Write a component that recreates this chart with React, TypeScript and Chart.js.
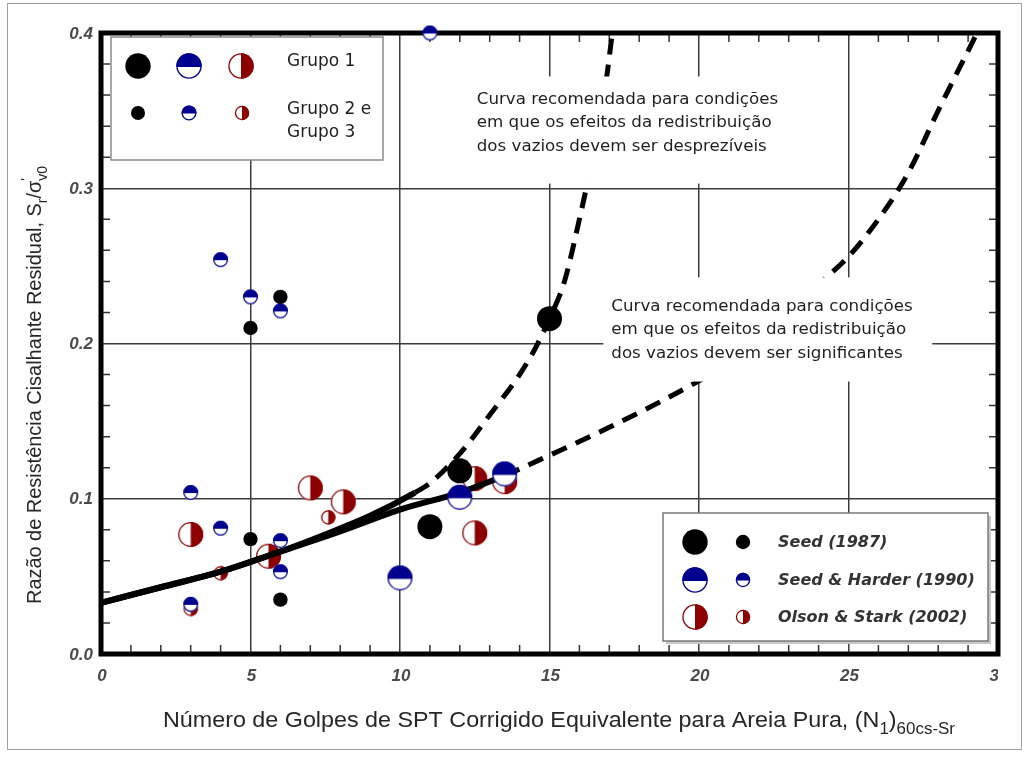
import React, { useEffect, useRef } from 'react';
import { Chart, registerables } from 'chart.js';

Chart.register(...registerables);

const W = 1030;
const H = 758;

// Seed (1987)
const seedX = [11, 12, 15, 5, 6, 5, 6];
const seedY = [0.082, 0.118, 0.216, 0.21, 0.23, 0.074, 0.035];
const seedGrupo = [1, 1, 1, 2, 2, 2, 2];

// Seed & Harder (1990)
const harderX = [10, 12, 13.5, 3, 4, 5, 6, 4, 6, 6, 3, 11];
const harderY = [0.049, 0.101, 0.116, 0.104, 0.254, 0.23, 0.221, 0.081, 0.073, 0.053, 0.032, 0.4];
const harderGrupo = [1, 1, 1, 2, 2, 2, 2, 2, 2, 2, 2, 2];

// Olson & Stark (2002)
const olsonX = [3, 5.6, 7, 8.1, 12.5, 12.5, 13.5, 4, 3, 7.6];
const olsonY = [0.077, 0.063, 0.107, 0.098, 0.113, 0.078, 0.111, 0.052, 0.029, 0.088];
const olsonGrupo = [1, 1, 1, 1, 1, 1, 1, 2, 2, 2];

// Recommended curves (solid part, then dashed beyond the given abscissa)
const curvaDesprezX = [0, 2, 4, 6, 7.5, 9, 10.5, 11, 12, 13, 14, 14.5, 15, 15.5, 16, 16.25, 16.6, 16.9, 17.1];
const curvaDesprezY = [0.033, 0.043, 0.053, 0.066, 0.077, 0.089, 0.104, 0.11, 0.129, 0.154, 0.18, 0.196, 0.216, 0.24, 0.28, 0.302, 0.337, 0.37, 0.4];
const curvaSignifX = [0, 2, 4, 6, 8, 10, 12, 13.5, 15, 17, 20, 22, 24, 25, 26, 27, 28, 29.3];
const curvaSignifY = [0.033, 0.043, 0.053, 0.066, 0.079, 0.093, 0.104, 0.115, 0.128, 0.146, 0.176, 0.2, 0.238, 0.256, 0.28, 0.31, 0.35, 0.4];
const inicioTracejadoDesprez = 10.5;
const inicioTracejadoSignif = 13.5;

const xTickLabels = ['0', '5', '10', '15', '20', '25', '30'];
const yTickLabels = ['0.0', '0.1', '0.2', '0.3', '0.4'];

const grupoLabels = ['Grupo 1', 'Grupo 2 e', 'Grupo 3'];
const fonteLabels = ['Seed (1987)', 'Seed & Harder (1990)', 'Olson & Stark (2002)'];
const notaDesprez = ['Curva recomendada para condições', 'em que os efeitos da redistribuição', 'dos vazios devem ser desprezíveis'];
const notaSignif = ['Curva recomendada para condições', 'em que os efeitos da redistribuição', 'dos vazios devem ser significantes'];

const BLUE = '#00008f';
const RED = '#8c0000';
const R_BIG = 12.5;
const R_SMALL = 7.2;

const SANS = '"DejaVu Sans", "Liberation Sans", sans-serif';
const ARIAL = '"Liberation Sans", Arial, sans-serif';

type Kind = 'seed' | 'harder' | 'olson';

function drawMarker(ctx: CanvasRenderingContext2D, kind: Kind, cx: number, cy: number, r: number) {
  ctx.save();
  if (kind === 'seed') {
    ctx.fillStyle = '#000';
    ctx.beginPath();
    ctx.arc(cx, cy, r, 0, Math.PI * 2);
    ctx.fill();
  } else {
    const col = kind === 'harder' ? BLUE : RED;
    ctx.fillStyle = '#fff';
    ctx.beginPath();
    ctx.arc(cx, cy, r, 0, Math.PI * 2);
    ctx.fill();
    ctx.fillStyle = col;
    ctx.beginPath();
    if (kind === 'harder') ctx.arc(cx, cy, r, Math.PI - 0.08, 2 * Math.PI + 0.08);
    else ctx.arc(cx, cy, r, -Math.PI / 2, Math.PI / 2);
    ctx.closePath();
    ctx.fill();
    ctx.strokeStyle = col;
    ctx.lineWidth = 1.3;
    ctx.beginPath();
    ctx.arc(cx, cy, r - 0.65, 0, Math.PI * 2);
    ctx.stroke();
  }
  ctx.restore();
}

function markerImage(kind: Kind, r: number) {
  const s = Math.ceil(2 * r + 2);
  const c = document.createElement('canvas');
  c.width = s;
  c.height = s;
  const g = c.getContext('2d')!;
  drawMarker(g, kind, s / 2, s / 2, r);
  return c;
}

type Run = { t: string; sub?: boolean; sup?: boolean };

// Draws a line of mixed text runs (with sub/superscripts), fitted to a given length.
function drawRuns(ctx: CanvasRenderingContext2D, runs: Run[], size: number, family: string, length: number) {
  const fonts = runs.map((r) => `${r.sub || r.sup ? Math.round(size * 0.72) : size}px ${family}`);
  let total = 0;
  const widths = runs.map((r, i) => {
    ctx.font = fonts[i];
    const w = ctx.measureText(r.t).width;
    if (!r.sup) total += w;
    return w;
  });
  const sx = length / total;
  ctx.save();
  ctx.scale(sx, 1);
  let cx = 0;
  runs.forEach((r, i) => {
    ctx.font = fonts[i];
    const dy = r.sub ? size * 0.32 : r.sup ? -size * 0.5 : 0;
    ctx.fillText(r.t, cx, dy);
    cx += r.sup ? 0 : widths[i];
  });
  ctx.restore();
}

const decor = {
  id: 'decor',
  beforeDatasetsDraw(chart: any) {
    const { ctx, chartArea: a, scales } = chart;
    const x = scales.x;
    const y = scales.y;
    ctx.save();
    ctx.strokeStyle = '#333';
    ctx.lineWidth = 1.5;
    ctx.beginPath();
    for (let v = 1; v < 30; v++) {
      if (v % 5 === 0) continue;
      const px = x.getPixelForValue(v);
      ctx.moveTo(px, a.bottom);
      ctx.lineTo(px, a.bottom - 9);
      ctx.moveTo(px, a.top);
      ctx.lineTo(px, a.top + 9);
    }
    for (let k = 1; k < 20; k++) {
      if (k % 5 === 0) continue;
      const py = y.getPixelForValue(k * 0.02);
      ctx.moveTo(a.left, py);
      ctx.lineTo(a.left + 9, py);
      ctx.moveTo(a.right, py);
      ctx.lineTo(a.right - 9, py);
    }
    ctx.stroke();
    ctx.strokeStyle = '#000';
    ctx.lineWidth = 5;
    ctx.strokeRect(a.left, a.top, a.right - a.left, a.bottom - a.top);
    ctx.restore();
  },
  afterDatasetsDraw(chart: any) {
    const { ctx, scales } = chart;
    const x = scales.x;
    const y = scales.y;
    ctx.save();

    // note boxes, placed in data coordinates
    const nota = (lines: string[], x0: number, x1: number, y1: number, y0: number, firstLine: number) => {
      const l = x.getPixelForValue(x0);
      const r = x.getPixelForValue(x1);
      const t = y.getPixelForValue(y1);
      const b = y.getPixelForValue(y0);
      ctx.fillStyle = '#fff';
      ctx.fillRect(l, t, r - l, b - t);
      ctx.fillStyle = '#1e1e1e';
      ctx.font = `16.7px ${SANS}`;
      ctx.textBaseline = 'middle';
      ctx.textAlign = 'left';
      lines.forEach((s, i) => ctx.fillText(s, l + 8, t + firstLine + i * 23.5));
    };
    nota(notaDesprez, 12.3, 23.05, 0.372, 0.303, 23);
    nota(notaSignif, 16.8, 27.8, 0.2426, 0.1755, 29);

    // group legend (top left)
    ctx.fillStyle = '#fff';
    ctx.fillRect(111, 37, 272, 123);
    ctx.strokeStyle = '#8a8a8a';
    ctx.lineWidth = 1.5;
    ctx.strokeRect(111, 37, 272, 123);
    drawMarker(ctx, 'seed', 138, 66, 12.7);
    drawMarker(ctx, 'harder', 189, 66, 12.7);
    drawMarker(ctx, 'olson', 241, 66, 12.7);
    drawMarker(ctx, 'seed', 138, 113, 7);
    drawMarker(ctx, 'harder', 189, 113, 7.5);
    drawMarker(ctx, 'olson', 242, 113, 7.2);
    ctx.fillStyle = '#1e1e1e';
    ctx.font = `17px ${SANS}`;
    ctx.textBaseline = 'middle';
    ctx.textAlign = 'left';
    ctx.fillText(grupoLabels[0], 287, 62);
    ctx.fillText(grupoLabels[1], 287, 110);
    ctx.fillText(grupoLabels[2], 287, 133);

    // source legend (bottom right)
    ctx.fillStyle = '#c8c8c8';
    ctx.fillRect(666, 516, 325, 128);
    ctx.fillStyle = '#fff';
    ctx.fillRect(663, 513, 325, 128);
    ctx.strokeStyle = '#7a7a7a';
    ctx.lineWidth = 1.5;
    ctx.strokeRect(663, 513, 325, 128);
    const kinds: Kind[] = ['seed', 'harder', 'olson'];
    const rows = [542, 580, 617];
    kinds.forEach((k, i) => {
      drawMarker(ctx, k, 695, rows[i], 12.7);
      drawMarker(ctx, k, 743, rows[i], 7.2);
    });
    ctx.fillStyle = '#333';
    ctx.font = `italic bold 16px ${SANS}`;
    fonteLabels.forEach((s, i) => ctx.fillText(s, 778, rows[i] + 1));
    ctx.restore();
  },
  afterDraw(chart: any) {
    const { ctx, chartArea: a, scales } = chart;
    const x = scales.x;
    const y = scales.y;
    ctx.save();

    // tick labels
    ctx.fillStyle = '#4a4a4a';
    ctx.font = `italic bold 17px ${ARIAL}`;
    ctx.textBaseline = 'middle';
    ctx.textAlign = 'right';
    yTickLabels.forEach((s) => ctx.fillText(s, a.left - 8, y.getPixelForValue(Number(s)) + 1));
    ctx.save();
    ctx.beginPath();
    ctx.rect(0, 0, a.right, H);
    ctx.clip();
    ctx.textAlign = 'center';
    xTickLabels.forEach((s) => ctx.fillText(s, x.getPixelForValue(Number(s)) + 1, a.bottom + 22));
    ctx.restore();

    // axis titles
    ctx.fillStyle = '#262626';
    ctx.textAlign = 'left';
    ctx.textBaseline = 'alphabetic';
    ctx.save();
    ctx.translate(163, 727);
    drawRuns(
      ctx,
      [
        { t: 'Número de Golpes de SPT Corrigido Equivalente para Areia Pura, (N' },
        { t: '1', sub: true },
        { t: ')' },
        { t: '60cs-Sr', sub: true },
      ],
      22,
      ARIAL,
      792
    );
    ctx.restore();

    ctx.save();
    ctx.translate(41, 604);
    ctx.rotate(-Math.PI / 2);
    drawRuns(
      ctx,
      [
        { t: 'Razão de Resistência Cisalhante Residual, S' },
        { t: 'r', sub: true },
        { t: '/σ' },
        { t: "'", sup: true },
        { t: 'v0', sub: true },
      ],
      20,
      ARIAL,
      438
    );
    ctx.restore();

    // outer frame
    ctx.strokeStyle = '#a0a0a0';
    ctx.lineWidth = 1;
    ctx.strokeRect(7.5, 3.5, 1014, 746);
    ctx.restore();
  },
};

function pontos(xs: number[], ys: number[]) {
  return xs.map((v, i) => ({ x: v, y: ys[i] }));
}

export default function App() {
  const ref = useRef<HTMLCanvasElement>(null);

  useEffect(() => {
    const canvas = ref.current;
    if (!canvas) return;

    const blueBig = markerImage('harder', R_BIG);
    const blueSmall = markerImage('harder', 7.5);
    const redBig = markerImage('olson', R_BIG);
    const redSmall = markerImage('olson', R_SMALL);

    const chart = new Chart(canvas, {
      type: 'scatter',
      data: {
        datasets: [
          {
            label: 'Olson & Stark (2002)',
            data: pontos(olsonX, olsonY),
            pointStyle: olsonGrupo.map((g) => (g === 1 ? redBig : redSmall)) as any,
            pointRadius: olsonGrupo.map((g) => (g === 1 ? R_BIG : R_SMALL)),
            order: 4,
          },
          {
            label: 'Curva (redistribuição desprezível)',
            data: pontos(curvaDesprezX, curvaDesprezY),
            showLine: true,
            pointRadius: 0,
            borderColor: '#000',
            borderWidth: 6,
            borderCapStyle: 'butt',
            borderJoinStyle: 'round',
            cubicInterpolationMode: 'monotone',
            segment: {
              borderDash: (c: any) => (c.p0.parsed.x >= inicioTracejadoDesprez ? [16, 10] : undefined),
              borderWidth: (c: any) => (c.p0.parsed.x >= inicioTracejadoDesprez ? 5 : undefined),
            },
            order: 3,
          } as any,
          {
            label: 'Curva (redistribuição significante)',
            data: pontos(curvaSignifX, curvaSignifY),
            showLine: true,
            pointRadius: 0,
            borderColor: '#000',
            borderWidth: 6,
            borderCapStyle: 'butt',
            borderJoinStyle: 'round',
            cubicInterpolationMode: 'monotone',
            segment: {
              borderDash: (c: any) => (c.p0.parsed.x >= inicioTracejadoSignif ? [16, 10] : undefined),
              borderWidth: (c: any) => (c.p0.parsed.x >= inicioTracejadoSignif ? 5 : undefined),
            },
            order: 3,
          } as any,
          {
            label: 'Seed (1987)',
            data: pontos(seedX, seedY),
            pointStyle: 'circle',
            backgroundColor: '#000',
            borderWidth: 0,
            pointRadius: seedGrupo.map((g) => (g === 1 ? R_BIG : R_SMALL)),
            order: 2,
          },
          {
            label: 'Seed & Harder (1990)',
            data: pontos(harderX, harderY),
            pointStyle: harderGrupo.map((g) => (g === 1 ? blueBig : blueSmall)) as any,
            pointRadius: harderGrupo.map((g) => (g === 1 ? R_BIG : 7.5)),
            clip: false,
            order: 1,
          } as any,
        ],
      },
      options: {
        responsive: false,
        devicePixelRatio: 1,
        animation: false,
        events: [],
        layout: { padding: { top: 33, right: 32, left: 0, bottom: 0 } },
        plugins: { legend: { display: false }, tooltip: { enabled: false } },
        scales: {
          x: {
            type: 'linear',
            min: 0,
            max: 30,
            ticks: { stepSize: 5, display: false },
            grid: { color: '#3c3c3c', lineWidth: 1.5, drawTicks: false },
            border: { display: false },
            afterFit: (s: any) => {
              s.height = 104;
            },
          },
          y: {
            type: 'linear',
            min: 0,
            max: 0.4,
            ticks: { stepSize: 0.1, display: false },
            grid: { color: '#3c3c3c', lineWidth: 1.5, drawTicks: false },
            border: { display: false },
            afterFit: (s: any) => {
              s.width = 101;
            },
          },
        },
      } as any,
      plugins: [decor],
    });

    return () => chart.destroy();
  }, []);

  return (
    <div style={{ position: 'absolute', left: 0, top: 0, width: W, height: H, background: '#fff' }}>
      <canvas ref={ref} width={W} height={H} style={{ display: 'block', width: W, height: H }} />
    </div>
  );
}
